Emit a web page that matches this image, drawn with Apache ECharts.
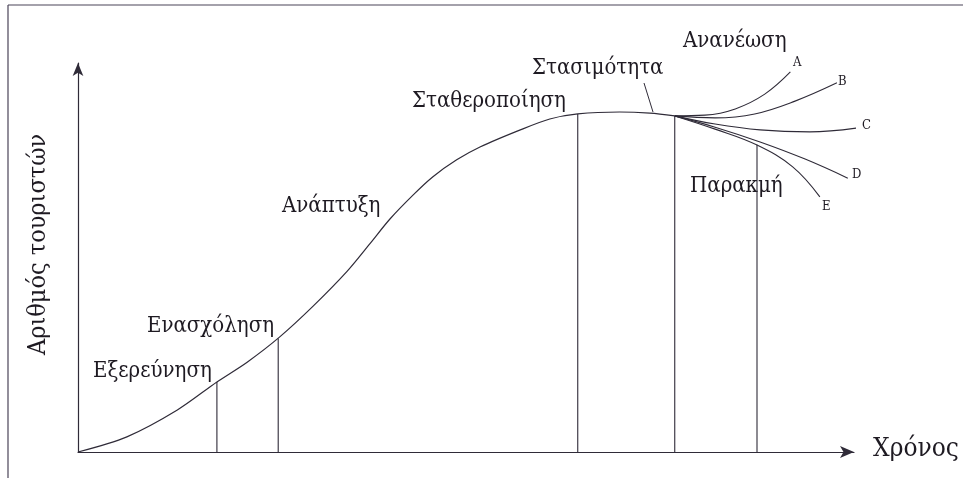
<!DOCTYPE html>
<html lang="el">
<head>
    <meta charset="UTF-8">
    <title>Κύκλος ζωής τουριστικού προορισμού</title>
    <script src="https://cdn.jsdelivr.net/npm/echarts@6/dist/echarts.min.js"></script>
    <style>
        html, body {margin: 0; padding: 0; background: #fff;}
        #chart {width: 963px; height: 478px;}
    </style>
</head>
<body>
<div id="chart"></div>
<script>
    // κύρια καμπύλη (x: χρόνος, y: αριθμός τουριστών, 0-100)
    var mainCurve = [
        [0, 0], [6.3, 3.9], [12.8, 10.8], [17.9, 18.0], [21.8, 23.1], [26.0, 29.6],
        [30.3, 37.5], [34.7, 46.5], [37.6, 53.5], [40.2, 59.9], [43.2, 66.1], [45.7, 70.7],
        [48.8, 75.1], [51.8, 78.4], [57.0, 82.8], [60.8, 85.6], [64.4, 86.9], [69.8, 87.4],
        [73.7, 87.1], [76.9, 86.4]
    ];
    // κλάδοι μετά τη στασιμότητα
    var branchA = [[76.9, 86.4], [80.8, 86.6], [84.7, 88.2], [88.5, 92.0], [91.8, 97.7]];
    var branchB = [[76.9, 86.4], [82.1, 85.9], [87.2, 86.9], [92.4, 90.2], [97.8, 94.9]];
    var branchC = [[76.9, 86.4], [82.1, 84.3], [87.9, 82.8], [94.3, 82.3], [100.4, 83.3]];
    var branchD = [[76.9, 86.4], [82.1, 83.5], [87.9, 79.7], [93.7, 75.3], [99.2, 70.4]];
    var branchE = [[76.9, 86.4], [82.1, 83.0], [87.5, 78.9], [92.1, 73.3], [95.6, 65.6]];
    var branchNames = ['A', 'B', 'C', 'D', 'E'];

    // όρια σταδίων
    var stageX = [17.9, 25.8, 64.4, 76.9, 87.5];
    var stageTop = [18.0, 29.2, 86.9, 86.4, 79.0];

    var lineColor = '#2f2b38';
    var serif = '"DejaVu Serif Condensed", "DejaVu Serif", serif';

    var chart = echarts.init(document.getElementById('chart'));

    var series = [];
    series.push({
        type: 'line', data: mainCurve, smooth: 0.3,
        showSymbol: false, clip: false, silent: true,
        lineStyle: {color: lineColor, width: 1.2}
    });
    [branchA, branchB, branchC, branchD, branchE].forEach(function (b) {
        series.push({
            type: 'line', data: b, smooth: 0.4,
            showSymbol: false, clip: false, silent: true,
            lineStyle: {color: lineColor, width: 1.1}
        });
    });
    for (var i = 0; i < stageX.length; i++) {
        series.push({
            type: 'line', data: [[stageX[i], 0], [stageX[i], stageTop[i]]],
            showSymbol: false, clip: false, silent: true,
            lineStyle: {color: lineColor, width: 1.1}
        });
    }

    function txt(s, x, y, size) {
        return {
            type: 'text', left: x, top: y, silent: true,
            style: {text: s, fill: '#1e1a22', fontSize: size, fontFamily: serif}
        };
    }

    var option = {
        backgroundColor: '#ffffff',
        animation: false,
        grid: {left: 78, right: 109, top: 63, bottom: 26},
        xAxis: {
            type: 'value', min: 0, max: 100,
            axisLine: {show: true, symbol: ['none', 'arrow'], symbolSize: [9, 14], lineStyle: {color: lineColor, width: 1.2}},
            axisTick: {show: false}, axisLabel: {show: false}, splitLine: {show: false}
        },
        yAxis: {
            type: 'value', min: 0, max: 100,
            axisLine: {show: true, symbol: ['none', 'arrow'], symbolSize: [8, 13], lineStyle: {color: lineColor, width: 1.2}},
            axisTick: {show: false}, axisLabel: {show: false}, splitLine: {show: false}
        },
        series: series,
        graphic: [
            // πλαίσιο
            {type: 'line', silent: true, shape: {x1: 8, y1: 5, x2: 963, y2: 5}, style: {stroke: '#4a4458', lineWidth: 1.2}},
            {type: 'line', silent: true, shape: {x1: 8, y1: 5, x2: 8, y2: 478}, style: {stroke: '#4a4458', lineWidth: 1.2}},
            // δείκτης στασιμότητας
            {type: 'line', silent: true, shape: {x1: 644, y1: 83, x2: 653, y2: 112}, style: {stroke: lineColor, lineWidth: 1}},
            txt('Εξερεύνηση', 93, 360, 22),
            txt('Ενασχόληση', 147, 315, 22),
            txt('Ανάπτυξη', 282, 195, 22),
            txt('Σταθεροποίηση', 412, 90, 22),
            txt('Στασιμότητα', 532, 57, 22),
            txt('Ανανέωση', 683, 30, 22),
            txt('Παρακμή', 690, 175, 22),
            txt('Χρόνος', 873, 436, 26),
            {
                type: 'text', silent: true, x: 26, y: 355, rotation: Math.PI / 2,
                style: {text: 'Αριθμός τουριστών', fill: '#1e1a22', fontSize: 25, fontFamily: serif, textAlign: 'left', textVerticalAlign: 'top'}
            },
            txt(branchNames[0], 793, 56, 13),
            txt(branchNames[1], 838, 75, 13),
            txt(branchNames[2], 862, 119, 13),
            txt(branchNames[3], 852, 168, 13),
            txt(branchNames[4], 822, 200, 13)
        ]
    };
    chart.setOption(option);
</script>
</body>
</html>
